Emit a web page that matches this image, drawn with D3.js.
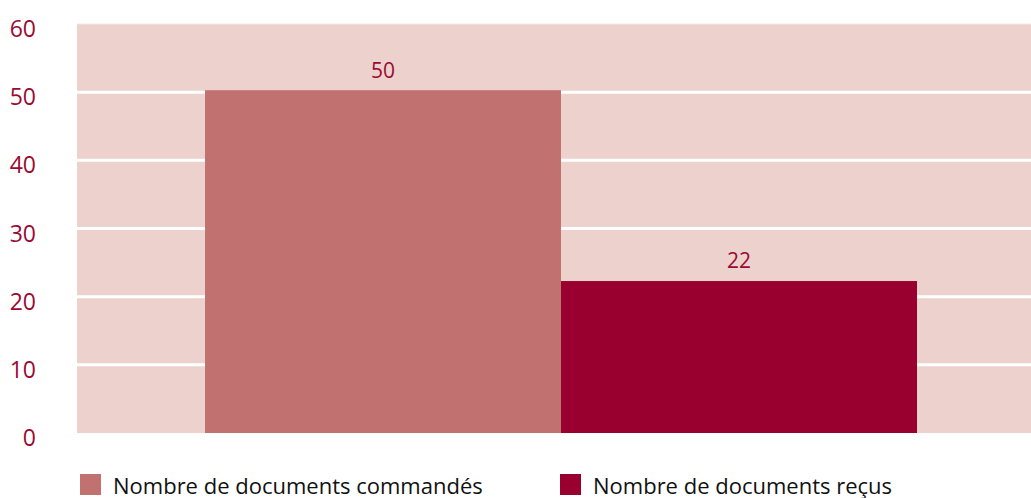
<!DOCTYPE html>
<html>
<head>
<meta charset="utf-8">
<script src="https://cdn.jsdelivr.net/npm/d3@7"></script>
<style>
  body { margin: 0; background: #fff; }
  svg text { font-family: "Open Sans", "Noto Sans", sans-serif; }
</style>
</head>
<body>
<div id="chart"></div>
<script>
var categories = ['']
var seriesNames = ['Nombre de documents commandés', 'Nombre de documents reçus']
var seriesValues = [50, 22]
var tickValues = [0, 10, 20, 30, 40, 50, 60]
var colors = ['#c27171', '#99002f']

var width = 1031, height = 498
var plotLeft = 77, plotRight = 1045, plotTop = 24, plotBottom = 433

var svg = d3.select('#chart').append('svg')
  .attr('width', width).attr('height', height)

var y = d3.scaleLinear().domain([0, 60]).range([plotBottom, plotTop])

// outer band for the single category, inner band for the series
var x0 = d3.scaleBand().domain(categories).range([plotLeft, plotRight])
  .paddingInner(0).paddingOuter(0.1798)
var x1 = d3.scaleBand().domain(seriesNames).range([0, x0.bandwidth()])

// background
svg.append('rect')
  .attr('x', plotLeft).attr('y', y(60))
  .attr('width', width - plotLeft).attr('height', y(0) - y(60))
  .attr('fill', '#ecd1cd')

// gridlines
svg.selectAll('.grid').data(tickValues.filter(function(d){ return d > 0 }))
  .enter().append('line')
  .attr('class', 'grid')
  .attr('x1', plotLeft).attr('x2', width)
  .attr('y1', function(d){ return y(d) }).attr('y2', function(d){ return y(d) })
  .attr('stroke', function(d){ return d == 60 ? '#f5e6e4' : '#fff' })
  .attr('stroke-width', function(d){ return d == 60 ? 1 : 3 })

// y tick labels
svg.selectAll('.tick-label').data(tickValues)
  .enter().append('text')
  .attr('class', 'tick-label')
  .attr('x', 36)
  .attr('y', function(d){ return y(d) + 5 })
  .attr('dy', '0.35em')
  .attr('text-anchor', 'end')
  .attr('fill', '#9a0a35')
  .style('font-size', '23px')
  .text(function(d){ return d })

var bars = seriesNames.map(function(name, i){
  return { name: name, value: seriesValues[i], color: colors[i] }
})

var g = svg.append('g').attr('transform', 'translate(' + x0(categories[0]) + ',0)')

g.selectAll('rect').data(bars).enter().append('rect')
  .attr('x', function(d){ return x1(d.name) })
  .attr('y', function(d){ return y(d.value) - 2 })
  .attr('width', x1.bandwidth())
  .attr('height', function(d){ return y(0) - y(d.value) + 2 })
  .attr('fill', function(d){ return d.color })

g.selectAll('.val').data(bars).enter().append('text')
  .attr('class', 'val')
  .attr('x', function(d){ return x1(d.name) + x1.bandwidth() / 2 })
  .attr('y', function(d){ return y(d.value) - 22 })
  .attr('text-anchor', 'middle')
  .attr('dy', '0.35em')
  .attr('fill', '#9a0a35')
  .style('font-size', '21px')
  .text(function(d){ return d.value })

// legend
var legendX = [80, 560]
var legend = svg.selectAll('.legend').data(bars).enter().append('g')
  .attr('class', 'legend')
  .attr('transform', function(d, i){ return 'translate(' + legendX[i] + ',474)' })
legend.append('rect').attr('width', 21).attr('height', 21)
  .attr('fill', function(d){ return d.color })
legend.append('text')
  .attr('x', 33).attr('y', 20)
  .attr('fill', '#111')
  .style('font-size', '22px')
  .text(function(d){ return d.name })
</script>
</body>
</html>
